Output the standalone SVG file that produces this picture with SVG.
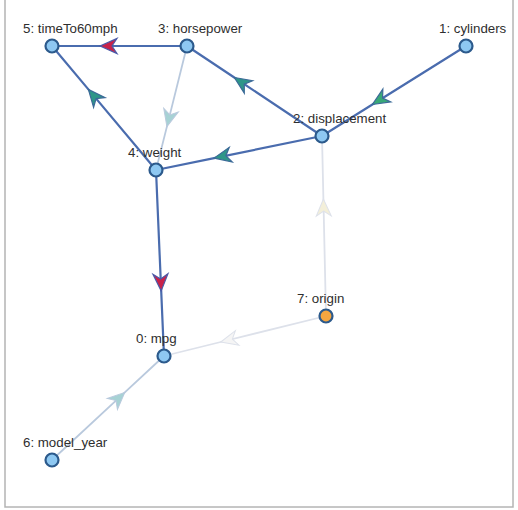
<svg xmlns="http://www.w3.org/2000/svg" width="518" height="510" viewBox="0 0 518 510">
<style>
.frame{fill:#fff;stroke:#b4b4b4;stroke-width:1.5}
.e{fill:none}
.dark{stroke:#4a6cae;stroke-width:2.2}
.light{stroke:#b9c9dd;stroke-width:1.8}
.faint{stroke:#dde1ea;stroke-width:1.8}
.n{fill:#8ec8f2;stroke:#2c5a8c;stroke-width:2.2}
.n.orange{fill:#f5a640}
.lbl{font-family:"Liberation Sans",Arial,sans-serif;font-size:13.3px;fill:#2e2e2e}
</style>
<defs>
<marker id="aRed" viewBox="-18 -9 19 18" markerWidth="19" markerHeight="18" refX="0" refY="0" orient="auto" markerUnits="userSpaceOnUse" overflow="visible"><path d="M0,0 L-17,-7.5 L-12,0 L-17,7.5 Z" fill="#c8224a" stroke="#4a5aa8" stroke-width="1.2"/></marker>
<marker id="aTeal" viewBox="-18 -9 19 18" markerWidth="19" markerHeight="18" refX="0" refY="0" orient="auto" markerUnits="userSpaceOnUse" overflow="visible"><path d="M0,0 L-17,-7.5 L-12,0 L-17,7.5 Z" fill="#2e9688" stroke="#3c6a98" stroke-width="1.2"/></marker>
<marker id="aGreen" viewBox="-18 -9 19 18" markerWidth="19" markerHeight="18" refX="0" refY="0" orient="auto" markerUnits="userSpaceOnUse" overflow="visible"><path d="M0,0 L-17,-7.5 L-12,0 L-17,7.5 Z" fill="#38a878" stroke="#3c6a98" stroke-width="1.2"/></marker>
<marker id="aLTeal" viewBox="-18 -9 19 18" markerWidth="19" markerHeight="18" refX="0" refY="0" orient="auto" markerUnits="userSpaceOnUse" overflow="visible"><path d="M0,0 L-17,-7.5 L-12,0 L-17,7.5 Z" fill="#a6d2d4" stroke="#b9c9dd" stroke-width="1"/></marker>
<marker id="aLYellow" viewBox="-18 -9 19 18" markerWidth="19" markerHeight="18" refX="0" refY="0" orient="auto" markerUnits="userSpaceOnUse" overflow="visible"><path d="M0,0 L-17,-7.5 L-12,0 L-17,7.5 Z" fill="#f3efd9" stroke="#dde1ea" stroke-width="1"/></marker>
<marker id="aLGray" viewBox="-18 -9 19 18" markerWidth="19" markerHeight="18" refX="0" refY="0" orient="auto" markerUnits="userSpaceOnUse" overflow="visible"><path d="M0,0 L-17,-7.5 L-12,0 L-17,7.5 Z" fill="#f5f5f5" stroke="#dde1ea" stroke-width="1"/></marker>
</defs>
<rect class="frame" x="5" y="-3" width="508" height="510"/>
<g id="connectors">
<path class="e faint" d="M326,316 L323.4,199 L322,136" marker-mid="url(#aLYellow)"/>
<path class="e faint" d="M326,316 L220.7,342 L164,356" marker-mid="url(#aLGray)"/>
<path class="e light" d="M187,46 L166.9,126.6 L156,170" marker-mid="url(#aLTeal)"/>
<path class="e light" d="M52,460 L124.8,392.4 L164,356" marker-mid="url(#aLTeal)"/>
<path class="e dark" d="M187,46 L100,46 L52,46" marker-mid="url(#aRed)"/>
<path class="e dark" d="M322,136 L234.3,77.5 L187,46" marker-mid="url(#aTeal)"/>
<path class="e dark" d="M466,46 L372.4,104.5 L322,136" marker-mid="url(#aGreen)"/>
<path class="e dark" d="M322,136 L214.1,158.1 L156,170" marker-mid="url(#aTeal)"/>
<path class="e dark" d="M156,170 L88.4,89.4 L52,46" marker-mid="url(#aTeal)"/>
<path class="e dark" d="M156,170 L161.2,290.9 L164,356" marker-mid="url(#aRed)"/>
</g>
<g id="node0"><circle class="n" cx="164" cy="356" r="6.5"/><text class="lbl" x="136" y="343">0: mpg</text></g>
<g id="node1"><circle class="n" cx="466" cy="46" r="6.5"/><text class="lbl" x="439" y="33">1: cylinders</text></g>
<g id="node2"><circle class="n" cx="322" cy="136" r="6.5"/><text class="lbl" x="293" y="123">2: displacement</text></g>
<g id="node3"><circle class="n" cx="187" cy="46" r="6.5"/><text class="lbl" x="158" y="33">3: horsepower</text></g>
<g id="node4"><circle class="n" cx="156" cy="170" r="6.5"/><text class="lbl" x="128" y="157">4: weight</text></g>
<g id="node5"><circle class="n" cx="52" cy="46" r="6.5"/><text class="lbl" x="23" y="33">5: timeTo60mph</text></g>
<g id="node6"><circle class="n" cx="52" cy="460" r="6.5"/><text class="lbl" x="23" y="447">6: model_year</text></g>
<g id="node7"><circle class="n orange" cx="326" cy="316" r="6.5"/><text class="lbl" x="297" y="303">7: origin</text></g>
</svg>
